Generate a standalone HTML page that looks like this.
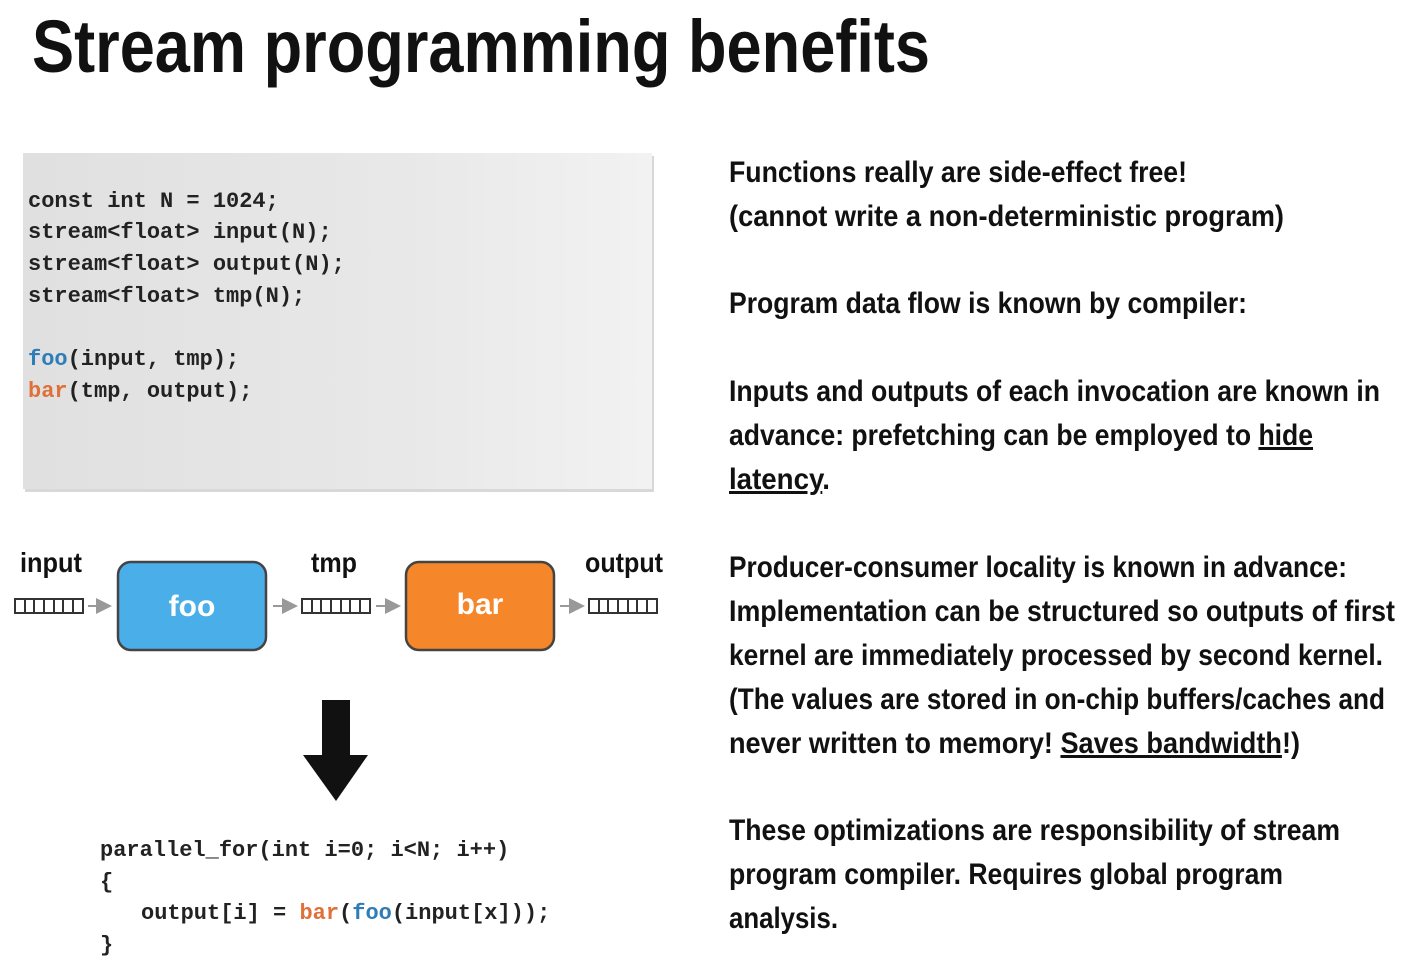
<!DOCTYPE html>
<html><head><meta charset="utf-8"><style>
html,body{margin:0;padding:0;background:#fff;}
svg{display:block}
.t{font-family:"Liberation Sans Narrow","Liberation Sans",sans-serif;font-weight:bold;font-size:30px;fill:#111}
.c{font-family:"Liberation Mono",monospace;font-size:22px;fill:#222;font-weight:bold}
</style></head><body>
<svg width="1407" height="974" viewBox="0 0 1407 974" xmlns="http://www.w3.org/2000/svg">
<defs>
<linearGradient id="g" x1="0" x2="1" y1="0" y2="0"><stop offset="0" stop-color="#e0e0e0"/><stop offset="0.6" stop-color="#e8e8e8"/><stop offset="1" stop-color="#f2f2f2"/></linearGradient>
<marker id="ar" markerWidth="8" markerHeight="8" refX="7" refY="4" orient="auto"><path d="M0,0 L8,4 L0,8 z" fill="#999"/></marker>
</defs>
<text x="32" y="72" font-family="Liberation Sans Narrow,Liberation Sans,sans-serif" font-weight="bold" font-size="74" fill="#111" textLength="898" lengthAdjust="spacingAndGlyphs">Stream programming benefits</text>

<rect x="25" y="156" width="629" height="336" fill="#d8d8d8"/>
<rect x="23" y="153" width="629" height="336" fill="url(#g)"/>
<g class="c">
<text x="28" y="207">const int N = 1024;</text>
<text x="28" y="238">stream&lt;float&gt; input(N);</text>
<text x="28" y="270">stream&lt;float&gt; output(N);</text>
<text x="28" y="302">stream&lt;float&gt; tmp(N);</text>
<text x="28" y="365"><tspan fill="#2f7db8">foo</tspan>(input, tmp);</text>
<text x="28" y="397"><tspan fill="#e0703a">bar</tspan>(tmp, output);</text>
</g>

<g class="t" font-size="28">
<text x="20" y="572" font-size="28" textLength="62" lengthAdjust="spacingAndGlyphs">input</text>
<text x="311" y="572" font-size="28" textLength="46" lengthAdjust="spacingAndGlyphs">tmp</text>
<text x="585" y="572" font-size="28" textLength="78" lengthAdjust="spacingAndGlyphs">output</text>
</g>
<g fill="none" stroke="#333" stroke-width="2">
<rect x="15" y="599" width="68" height="14"/><path d="M25 599v14M34 599v14M44 599v14M54 599v14M63 599v14M73 599v14"/>
<rect x="302" y="599" width="68" height="14"/><path d="M312 599v14M321 599v14M331 599v14M341 599v14M350 599v14M360 599v14"/>
<rect x="589" y="599" width="68" height="14"/><path d="M599 599v14M608 599v14M618 599v14M628 599v14M637 599v14M647 599v14"/>
</g>
<g stroke="#999" stroke-width="2" marker-end="url(#ar)">
<line x1="88" y1="606" x2="110" y2="606"/>
<line x1="273" y1="606" x2="296" y2="606"/>
<line x1="376" y1="606" x2="399" y2="606"/>
<line x1="560" y1="606" x2="583" y2="606"/>
</g>
<rect x="118" y="562" width="148" height="88" rx="13" fill="#4aaee8" stroke="#444" stroke-width="2.5"/>
<rect x="406" y="562" width="148" height="88" rx="13" fill="#f5862a" stroke="#444" stroke-width="2.5"/>
<text x="192" y="616" text-anchor="middle" class="t" font-size="32" style="fill:#fff">foo</text>
<text x="480" y="614" text-anchor="middle" class="t" font-size="32" style="fill:#fff">bar</text>

<path d="M322 700h28v55h18l-32 46l-33-46h19z" fill="#111"/>

<g class="c">
<text x="100" y="856">parallel_for(int i=0; i&lt;N; i++)</text>
<text x="100" y="888">{</text>
<text x="141" y="919">output[i] = <tspan fill="#e0703a">bar</tspan>(<tspan fill="#2f7db8">foo</tspan>(input[x]));</text>
<text x="100" y="951">}</text>
</g>

<g class="t">
<text x="729" y="182" textLength="458" lengthAdjust="spacingAndGlyphs">Functions really are side-effect free!</text>
<text x="729" y="226" textLength="555" lengthAdjust="spacingAndGlyphs">(cannot write a non-deterministic program)</text>
<text x="729" y="313" textLength="518" lengthAdjust="spacingAndGlyphs">Program data flow is known by compiler:</text>
<text x="729" y="401" textLength="651" lengthAdjust="spacingAndGlyphs">Inputs and outputs of each invocation are known in</text>
<text x="729" y="445" textLength="584" lengthAdjust="spacingAndGlyphs">advance: prefetching can be employed to <tspan text-decoration="underline">hide</tspan></text>
<text x="729" y="489" textLength="101" lengthAdjust="spacingAndGlyphs"><tspan text-decoration="underline">latency</tspan>.</text>
<text x="729" y="577" textLength="618" lengthAdjust="spacingAndGlyphs">Producer-consumer locality is known in advance:</text>
<text x="729" y="621" textLength="666" lengthAdjust="spacingAndGlyphs">Implementation can be structured so outputs of first</text>
<text x="729" y="665" textLength="654" lengthAdjust="spacingAndGlyphs">kernel are immediately processed by second kernel.</text>
<text x="729" y="709" textLength="656" lengthAdjust="spacingAndGlyphs">(The values are stored in on-chip buffers/caches and</text>
<text x="729" y="753" textLength="571" lengthAdjust="spacingAndGlyphs">never written to memory! <tspan text-decoration="underline">Saves bandwidth</tspan>!)</text>
<text x="729" y="840" textLength="611" lengthAdjust="spacingAndGlyphs">These optimizations are responsibility of stream</text>
<text x="729" y="884" textLength="554" lengthAdjust="spacingAndGlyphs">program compiler. Requires global program</text>
<text x="729" y="928" textLength="109" lengthAdjust="spacingAndGlyphs">analysis.</text>
</g>
</svg>
</body></html>
